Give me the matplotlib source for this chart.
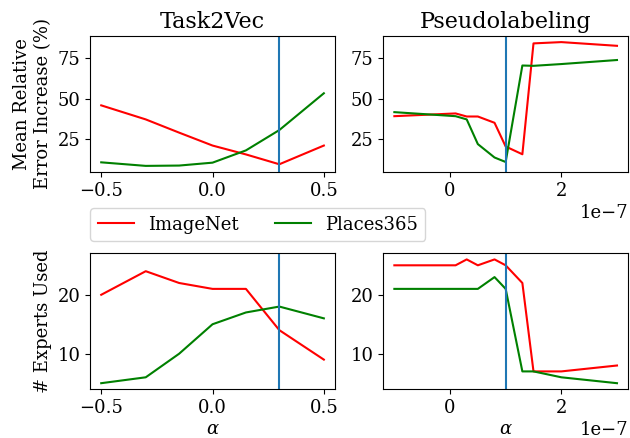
import numpy as np
import matplotlib
matplotlib.use("Agg")
import matplotlib.pyplot as plt

plt.rcParams['font.family'] = 'DejaVu Serif'
plt.rcParams['mathtext.fontset'] = 'dejavuserif'

# Task2Vec
t2v_alpha = [-0.5, -0.3, -0.15, 0.0, 0.15, 0.3, 0.5]
t2v_err_imagenet = [45.9, 37.2, 29.0, 21.0, 15.5, 9.4, 21.0]
t2v_err_places = [10.6, 8.4, 8.6, 10.4, 18.0, 30.6, 53.4]
t2v_exp_imagenet = [20, 24, 22, 21, 21, 14, 9]
t2v_exp_places = [5, 6, 10, 15, 17, 18, 16]
t2v_best = 0.3

# Pseudolabeling (alpha in units of 1e-7)
pl_alpha = np.array([-1.0, 0.1, 0.3, 0.5, 0.8, 1.0, 1.3, 1.5, 2.0, 3.0]) * 1e-7
pl_err_imagenet = [39.2, 40.9, 39.0, 39.0, 35.1, 20.4, 15.6, 84.3, 85.1, 82.8]
pl_err_places = [41.7, 39.2, 37.2, 21.9, 13.6, 10.8, 70.6, 70.4, 71.5, 74.0]
pl_exp_imagenet = [25, 25, 26, 25, 26, 25, 22, 7, 7, 8]
pl_exp_places = [21, 21, 21, 21, 23, 21, 7, 7, 6, 5]
pl_best = 1e-7

fig, axes = plt.subplots(2, 2, figsize=(6.3, 4.38), dpi=100, sharey='row')
fig.subplots_adjust(left=0.143, right=0.997, top=0.918, bottom=0.111,
                    hspace=0.596, wspace=0.197)

ax = axes[0, 0]
ax.plot(t2v_alpha, t2v_err_imagenet, color='r', label='ImageNet')
ax.plot(t2v_alpha, t2v_err_places, color='g', label='Places365')
ax.axvline(t2v_best, color='C0')
ax.set_title('Task2Vec', fontsize=16)
ax.set_ylabel('Mean Relative\nError Increase (%)', fontsize=13)

ax = axes[0, 1]
ax.plot(pl_alpha, pl_err_imagenet, color='r')
ax.plot(pl_alpha, pl_err_places, color='g')
ax.axvline(pl_best, color='C0')
ax.set_title('Pseudolabeling', fontsize=16)

ax = axes[1, 0]
ax.plot(t2v_alpha, t2v_exp_imagenet, color='r')
ax.plot(t2v_alpha, t2v_exp_places, color='g')
ax.axvline(t2v_best, color='C0')
ax.set_ylabel('# Experts Used', fontsize=13)
ax.set_xlabel(r'$\alpha$', fontsize=13, labelpad=2)

ax = axes[1, 1]
ax.plot(pl_alpha, pl_exp_imagenet, color='r')
ax.plot(pl_alpha, pl_exp_places, color='g')
ax.axvline(pl_best, color='C0')
ax.set_xlabel(r'$\alpha$', fontsize=13, labelpad=2)

axes[0, 0].set_yticks([25, 50, 75])
axes[1, 0].set_yticks([10, 20])
for a in axes.flat:
    a.tick_params(labelsize=13, labelleft=True)
    a.xaxis.get_offset_text().set_fontsize(13)

fig.legend(loc='upper left', bbox_to_anchor=(0.129, 0.545), ncol=2,
           fontsize=13, columnspacing=2.0)

plt.savefig('out.png')
